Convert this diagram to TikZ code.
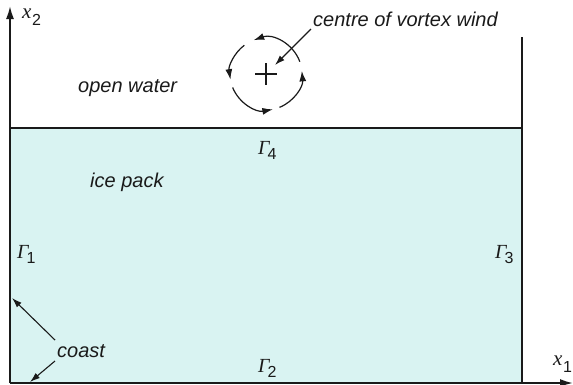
\documentclass[tikz,border=0pt]{standalone}
\usepackage{fontspec}
\setmainfont{Liberation Sans}
\newfontfamily\serifgr{Liberation Serif}
\usetikzlibrary{arrows.meta,calc}
\definecolor{icecol}{HTML}{D9F3F2}
\definecolor{ink}{HTML}{1A1A1A}
\newcommand{\Gsym}[1]{{\fontsize{20}{24}\selectfont\serifgr\itshape Γ}\kern-2pt\raisebox{-5pt}{\fontsize{16}{16}\selectfont #1}}
\newcommand{\Xsym}[1]{{\fontsize{21}{24}\selectfont\serifgr\itshape x}\kern0.5pt\raisebox{-7pt}{\fontsize{16}{16}\selectfont #1}}
\begin{document}
\begin{tikzpicture}[x=1pt,y=-1pt,
  lbl/.style={font=\fontsize{20}{24}\selectfont\itshape, inner sep=0pt, anchor=base west, text=ink},
  sym/.style={inner sep=0pt, anchor=base west, text=ink},
  ptr/.style={draw=ink, line width=1.1pt, -{Latex[length=10pt,width=6.5pt]}},
  axis/.style={draw=ink, line width=1.8pt, -{Latex[length=13pt,width=8pt]}},
  wall/.style={draw=ink, line width=1.8pt},
  vort/.style={draw=ink, line width=1.2pt, -{Latex[length=10.5pt,width=7pt]}}]
\useasboundingbox (0,0) rectangle (573,384);
% ice pack
\fill[icecol] (10,128) rectangle (522,383);
\draw[draw=ink, line width=1.3pt] (10,128) -- (522,128);
\draw[wall] (522,37) -- (522,384);
% axes
\coordinate (o) at (10,383);
\coordinate (ytip) at (10,6);
\coordinate (xtip) at (573,383);
\draw[axis] (o) -- (ytip);
\draw[axis] (o) -- (xtip);
\node[sym] (x2) at (22,18) {\Xsym{2}};
\node[sym] (x1) at (553,365) {\Xsym{1}};
% labels
\node[lbl] (open) at (78,92) {open water};
\node[lbl] (ice) at (90,187) {ice pack};
\node[lbl] (cvw) at (313,26) {centre of vortex wind};
\node[lbl] (coast) at (57,357) {coast};
\node[sym] (g1) at (17,258) {\Gsym{1}};
\node[sym] (g3) at (495,258) {\Gsym{3}};
\node[sym] (g4) at (258,154) {\Gsym{4}};
\node[sym] (g2) at (258,372) {\Gsym{2}};
% vortex
\coordinate (c) at (266,74);
\draw[ink, line width=1.1pt] ($(c)+(-11,0)$) -- ($(c)+(11,0)$) ($(c)+(0,-11)$) -- ($(c)+(0,11)$);
\draw[vort] ($(c)+(-20:36)$) arc[start angle=-20, end angle=-110, radius=36];
\draw[vort] ($(c)+(-127:36)$) arc[start angle=-127, end angle=-189, radius=36];
\draw[vort] ($(c)+(-202:36)$) arc[start angle=-202, end angle=-281, radius=36];
\draw[vort] ($(c)+(-292:36)$) arc[start angle=-292, end angle=-365, radius=36];
% pointers
\coordinate (cvs) at (311,29);
\coordinate (cve) at (275,65);
\draw[ptr] (cvs) -- (cve);
\coordinate (cs1) at (55,340);
\coordinate (ce1) at (12,298);
\coordinate (cs2) at (55,361);
\coordinate (ce2) at (30,382);
\draw[ptr] (cs1) -- (ce1);
\draw[ptr] (cs2) -- (ce2);
\end{tikzpicture}
\end{document}
